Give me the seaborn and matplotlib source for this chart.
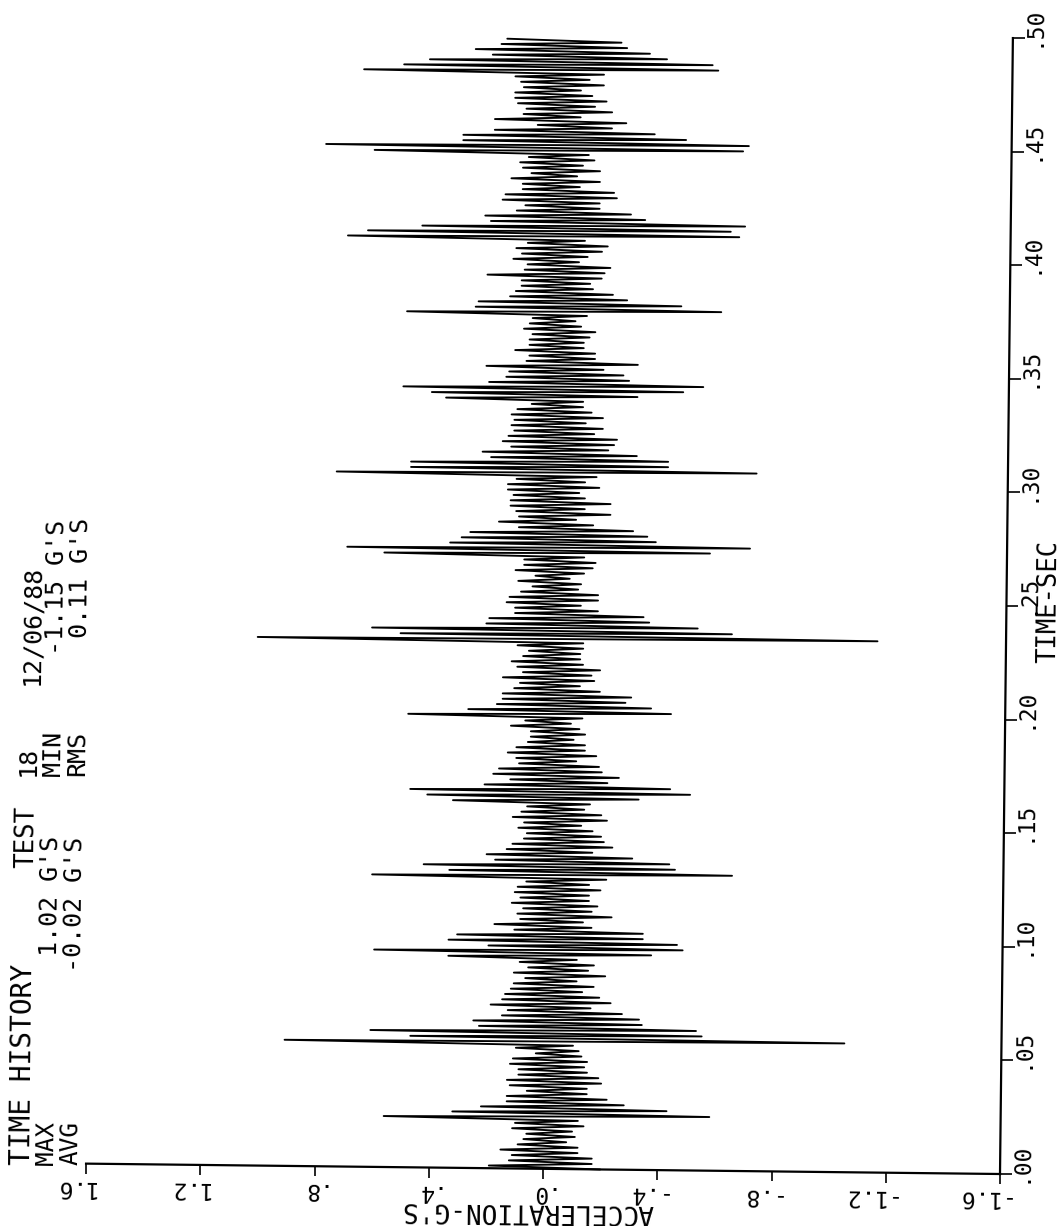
import matplotlib
matplotlib.use('Agg')
import matplotlib.pyplot as plt
from matplotlib.transforms import Affine2D
import numpy as np
import pandas as pd
import seaborn as sns

# peaks, oldest first. right swing (negative g) comes first, then left swing
neg_peaks_a = [-.20,-.17,-.17,-.12,-.12,-.08,-.11,-.10,-.14,-.12,-.58,-.43,-.28,-.22,-.15,-.15,-.20,-.19,-.15,-.14,-.15,-.13,-.12,-.10,-1.05,-.55,-.53,-.34,-.33,-.27,-.16,-.23,-.19,-.13,-.17,-.11,-.21,-.15,-.17,-.11,-.37]
pos_peaks_a = [.19,.12,.11,.15,.09,.07,.06,.11,.10,.56,.32,.22,.13,.13,.06,.12,.13,.09,.09,.12,.11,.03,.10,.91,.47,.61,.23,.25,.15,.13,.19,.15,.14,.12,.11,.07,.11,.06,.09,.34]
neg_peaks_b = [-.48,-.46,-.34,-.34,-.16,-.13,-.23,-.16,-.18,-.15,-.15,-.19,-.15,-.21,-.65,-.45,-.43,-.30,-.16,-.23,-.20,-.19,-.16,-.12,-.21,-.19,-.13,-.15,-.32,-.50,-.43,-.21,-.25,-.19,-.18,-.10,-.17,-.13,-.13,-.09,-.13,-.11]
pos_peaks_b = [.60,.20,.34,.31,.11,.18,.09,.10,.08,.12,.09,.11,.10,.07,.61,.34,.43,.18,.21,.14,.12,.08,.07,.10,.08,.12,.09,.07,.33,.42,.48,.22,.13,.19,.17,.10,.11,.14,.11,.07,.06,.06,.13]
neg_peaks_c = [-.08,-.12,-.43,-.36,-.27,-.29,-.18,-.11,-.16,-.15,-.18,-.12,-.11,-.11,-.12,-.12,-1.15,-.64,-.52,-.35,-.33,-.17,-.11,-.17,-.17,-.10,-.11,-.07,-.12,-.15,-.16,-.12,-.56,-.70,-.37,-.34,-.29,-.15,-.09,-.21,-.12,-.21,-.12]
pos_peaks_c = [.08,.49,.28,.18,.16,.16,.12,.10,.16,.09,.11,.13,.09,.07,.11,1.02,.52,.62,.22,.21,.12,.12,.15,.14,.10,.06,.11,.05,.12,.09,.09,.58,.71,.35,.31,.28,.11,.18,.11,.12,.14,.14,.13]
neg_peaks_d = [-.10,-.17,-.12,-.16,-.72,-.41,-.41,-.30,-.20,-.22,-.23,-.15,-.18,-.12,-.18,-.14,-.11,-.11,-.30,-.46,-.53,-.27,-.25,-.18,-.30,-.15,-.15,-.11,-.11,-.13,-.15,-.10,-.08,-.12,-.59,-.45,-.26,-.21,-.14,-.13,-.17,-.18,-.20]
pos_peaks_d = [.15,.15,.12,.75,.49,.49,.21,.24,.14,.17,.15,.13,.14,.13,.14,.12,.07,.37,.42,.52,.22,.16,.15,.23,.09,.08,.13,.08,.08,.07,.10,.08,.07,.51,.27,.26,.15,.13,.11,.11,.23,.10,.09]
neg_peaks_e = [-.09,-.12,-.17,-.19,-.11,-.65,-.62,-.67,-.32,-.27,-.16,-.16,-.22,-.21,-.09,-.16,-.08,-.16,-.10,-.14,-.12,-.66,-.68,-.46,-.35,-.20,-.25,-.09,-.20,-.14,-.18,-.13,-.09,-.17,-.12,-.17,-.57,-.55,-.39,-.33,-.25,-.23]
pos_peaks_e = [.14,.11,.13,.09,.72,.65,.46,.22,.24,.13,.10,.18,.17,.11,.11,.15,.08,.11,.12,.09,.63,.80,.32,.32,.21,.06,.21,.11,.10,.13,.14,.14,.11,.12,.14,.67,.53,.44,.22,.28,.19,.17]

accel_ticks = [1.6, 1.2, .8, .4, 0, -.4, -.8, -1.2, -1.6]
accel_labels = ['1.6', '1.2', '.8', '.4', '.0', '-.4', '-.8', '-1.2', '-1.6']
time_ticks = [.00, .05, .10, .15, .20, .25, .30, .35, .40, .45, .50]
time_labels = ['.00', '.05', '.10', '.15', '.20', '.25', '.30', '.35', '.40', '.45', '.50']

start_time = 0.0
sample_step = 0.001181  # one half swing

neg_peaks = neg_peaks_a + neg_peaks_b + neg_peaks_c + neg_peaks_d + neg_peaks_e
pos_peaks = pos_peaks_a + pos_peaks_b + pos_peaks_c + pos_peaks_d + pos_peaks_e
accel = np.ravel(np.column_stack([neg_peaks, pos_peaks]))
df = pd.DataFrame({'time': start_time + np.arange(len(accel)) * sample_step, 'accel': accel})

sns.set_theme(style='white')
plt.rcParams['font.family'] = ['DejaVu Sans Mono']
plt.rcParams['text.color'] = 'black'
plt.rcParams['axes.labelcolor'] = 'black'

W, H = 1061, 1226
fig = plt.figure(figsize=(W / 100, H / 100), dpi=100)
ax = fig.add_axes([86 / W, (H - 1174) / H, 914 / W, 1136 / H])

sns.lineplot(data=df, x='accel', y='time', sort=False, estimator=None, color='black',
             linewidth=1.35, legend=False, ax=ax)

ax.set_xlim(1.6, -1.6)
ax.set_ylim(0, .5)
ax.set_xticks(accel_ticks, labels=accel_labels)
ax.set_yticks(time_ticks, labels=time_labels)
ax.yaxis.tick_right()
ax.tick_params(axis='x', direction='out', length=7.5, width=1.2, color='black', pad=1,
               labelsize=16.5, labelrotation=179.35, labelcolor='black', bottom=True)
ax.tick_params(axis='y', direction='out', length=8.5, width=1.2, color='black', pad=0,
               labelsize=16.5, labelrotation=89.35, labelcolor='black', right=True, left=False)
for side in ['top', 'left']:
    ax.spines[side].set_visible(False)
for side in ['bottom', 'right']:
    ax.spines[side].set_color('black')
    ax.spines[side].set_linewidth(1.6)

# the plotter sheet sits slightly crooked, so turn the whole frame about its corner
tilt = Affine2D().rotate_deg_around(1000, H - 1174, -0.65)
ax.lines[0].set_transform(ax.transData + tilt)
ax.lines[0].set_clip_on(False)
for side in ['bottom', 'right']:
    ax.spines[side].set_transform(ax.spines[side].get_transform() + tilt)
    ax.spines[side].set_clip_on(False)
for tick in ax.xaxis.get_major_ticks():
    tick.tick1line.set_transform(tick.tick1line.get_transform() + tilt)
    tick.label1.set_transform(tick.label1.get_transform() + tilt + Affine2D().translate(9, 0))
    tick.label1.set_ha('right')
    tick.label1.set_va('top')
for tick in ax.yaxis.get_major_ticks():
    tick.tick2line.set_transform(tick.tick2line.get_transform() + tilt)
    tick.label2.set_transform(tick.label2.get_transform() + tilt + Affine2D().translate(-3, -9))
    tick.label2.set_ha('left')
    tick.label2.set_va('bottom')

ax.set_xlabel("ACCELERATION-G'S", fontsize=18.8, rotation=179.35, ha='center', va='center')
ax.xaxis.set_label_coords(.4825, -.0325)
ax.yaxis.set_label_position('right')
ax.set_ylabel('TIME-SEC', fontsize=18.4, rotation=89.35, ha='center', va='center')
ax.yaxis.set_label_coords(1.0535, .504)

# header block: text, baseline x, start y, font size
header = [
    ('TIME HISTORY', 30, 1165, 20), ('TEST', 33, 868, 18.5), ('18', 35, 776, 18), ('12/06/88', 38, 685, 18),
    ('MAX', 53, 1165, 17.5), ("1.02 G'S", 57, 956, 18), ('MIN', 60, 776, 18), ("-1.15 G'S", 63, 655, 18),
    ('AVG', 78, 1165, 17.5), ("-0.02 G'S", 81, 972, 18), ('RMS', 84, 776, 18), ("0.11 G'S", 87, 638, 18),
]
for label, x, y, size in header:
    fig.text(x / W, (H - y) / H, label, fontsize=size, rotation=89.35, rotation_mode='anchor',
             ha='left', va='baseline', color='black')

plt.savefig('out.png', dpi=100, facecolor='white')
